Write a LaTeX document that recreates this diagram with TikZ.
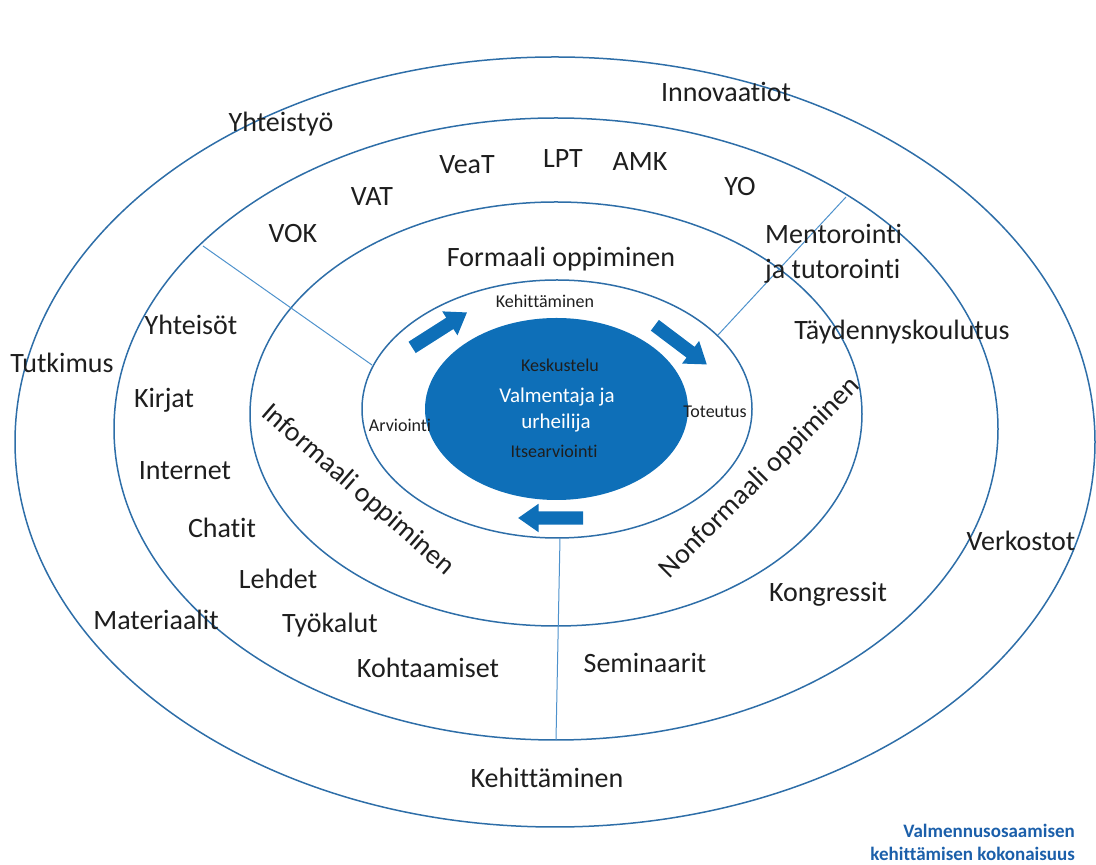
\documentclass[tikz,border=0pt]{standalone}
\usepackage{fontspec}
\setmainfont{Carlito}[Ligatures=NoCommon]
\usetikzlibrary{shapes.arrows}

\definecolor{ringblue}{RGB}{46,110,168}
\definecolor{spokeblue}{RGB}{78,146,204}
\definecolor{coreblue}{RGB}{14,111,184}
\definecolor{textgray}{RGB}{30,30,30}
\definecolor{footblue}{RGB}{27,95,170}

\tikzset{
  ring/.style={line width=1.5pt, draw=ringblue},
  spoke/.style={line width=1pt, draw=spokeblue},
  ringtext/.style={font=\fontsize{28}{33}\selectfont, text=textgray, inner sep=0pt, anchor=base},
  coretext/.style={font=\fontsize{18}{21}\selectfont, text=textgray, inner sep=0pt, anchor=base},
  flow/.style={single arrow, fill=coreblue, inner sep=6.5pt, minimum height=65pt,
    single arrow head extend=7.5pt, single arrow tip angle=70},
}

\begin{document}
\begin{tikzpicture}[x=1pt,y=1pt]

    \useasboundingbox (0,0) rectangle (1096,865);

    % Four rings and the blue core
    \draw[ring] (555,423) ellipse [x radius=540, y radius=385];
    \draw[ring] (556,436) ellipse [x radius=442, y radius=311];
    \draw[ring] (556,451) ellipse [x radius=306, y radius=212];
    \draw[ring] (557,456) ellipse [x radius=195, y radius=129];
    \fill[coreblue] (556.5,456) ellipse [x radius=131.5, y radius=91];

    % Spokes between second and fourth ring
    \coordinate (spokeA1) at (203,619);
    \coordinate (spokeA2) at (372,500);
    \coordinate (spokeB1) at (846,668);
    \coordinate (spokeB2) at (718,530);
    \coordinate (spokeC1) at (560,327);
    \coordinate (spokeC2) at (556,125);
    \draw[spoke] (spokeA1) -- (spokeA2);
    \draw[spoke] (spokeB1) -- (spokeB2);
    \draw[spoke] (spokeC1) -- (spokeC2);

    % Cycle arrows round the core
    \node[flow, rotate=32.5] (flowup) at (435.5,532.5) {};
    \node[flow, rotate=-37] (flowdown) at (677,523) {};
    \node[flow, rotate=180] (flowback) at (555.5,347) {};

    % Core texts
    \node[coretext] (kehitys) at (545,557) {Kehittäminen};
    \node[coretext] (keskustelu) at (560,493) {Keskustelu};
    \node[coretext, text=white, font=\fontsize{21}{24}\selectfont] (valmentaja) at (557,462) {Valmentaja ja};
    \node[coretext, text=white, font=\fontsize{21}{24}\selectfont] (urheilija) at (556,436) {urheilija};
    \node[coretext] (itsearv) at (554,407) {Itsearviointi};
    \node[coretext] (arviointi) at (400,433) {Arviointi};
    \node[coretext] (toteutus) at (715,447) {Toteutus};

    % Learning types
    \node[ringtext] (formaali) at (561,598) {Formaali oppiminen};
    \node[ringtext, anchor=center, rotate=-41] (informaali) at (358,375) {Informaali oppiminen};
    \node[ringtext, anchor=center, rotate=45] (nonformaali) at (760,387) {Nonformaali oppiminen};

    % Second ring
    \node[ringtext] (veat) at (467,691) {VeaT};
    \node[ringtext] (lpt) at (563,697) {LPT};
    \node[ringtext] (amk) at (640,694) {AMK};
    \node[ringtext] (yo) at (740,669) {YO};
    \node[ringtext] (vat) at (372,659) {VAT};
    \node[ringtext] (vok) at (293,622) {VOK};
    \node[ringtext, anchor=base west] (mentor) at (765,621) {Mentorointi};
    \node[ringtext, anchor=base west] (tutor) at (765,586) {ja tutorointi};
    \node[ringtext] (taydennys) at (902,525) {Täydennyskoulutus};
    \node[ringtext] (yhteisot) at (191,530) {Yhteisöt};
    \node[ringtext] (kirjat) at (164,457) {Kirjat};
    \node[ringtext] (internet) at (185,385) {Internet};
    \node[ringtext] (chatit) at (222,327) {Chatit};
    \node[ringtext] (lehdet) at (278,276) {Lehdet};
    \node[ringtext] (tyokalut) at (330,232) {Työkalut};
    \node[ringtext] (kohtaamiset) at (428,187) {Kohtaamiset};
    \node[ringtext] (seminaarit) at (645,192) {Seminaarit};
    \node[ringtext] (kongressit) at (828,263) {Kongressit};

    % Outer ring
    \node[ringtext] (innovaatiot) at (726,763) {Innovaatiot};
    \node[ringtext] (yhteistyo) at (281,733) {Yhteistyö};
    \node[ringtext] (tutkimus) at (62,492) {Tutkimus};
    \node[ringtext] (materiaalit) at (156,235) {Materiaalit};
    \node[ringtext] (verkostot) at (1021,314) {Verkostot};
    \node[ringtext] (kehittaminen) at (547,77) {Kehittäminen};

    % Caption
    \node[anchor=base east, inner sep=0pt, text=footblue, font=\fontsize{19}{22}\selectfont\bfseries] (capA) at (1075,27) {Valmennusosaamisen};
    \node[anchor=base east, inner sep=0pt, text=footblue, font=\fontsize{19}{22}\selectfont\bfseries] (capB) at (1075,4) {kehittämisen kokonaisuus};

\end{tikzpicture}
\end{document}
